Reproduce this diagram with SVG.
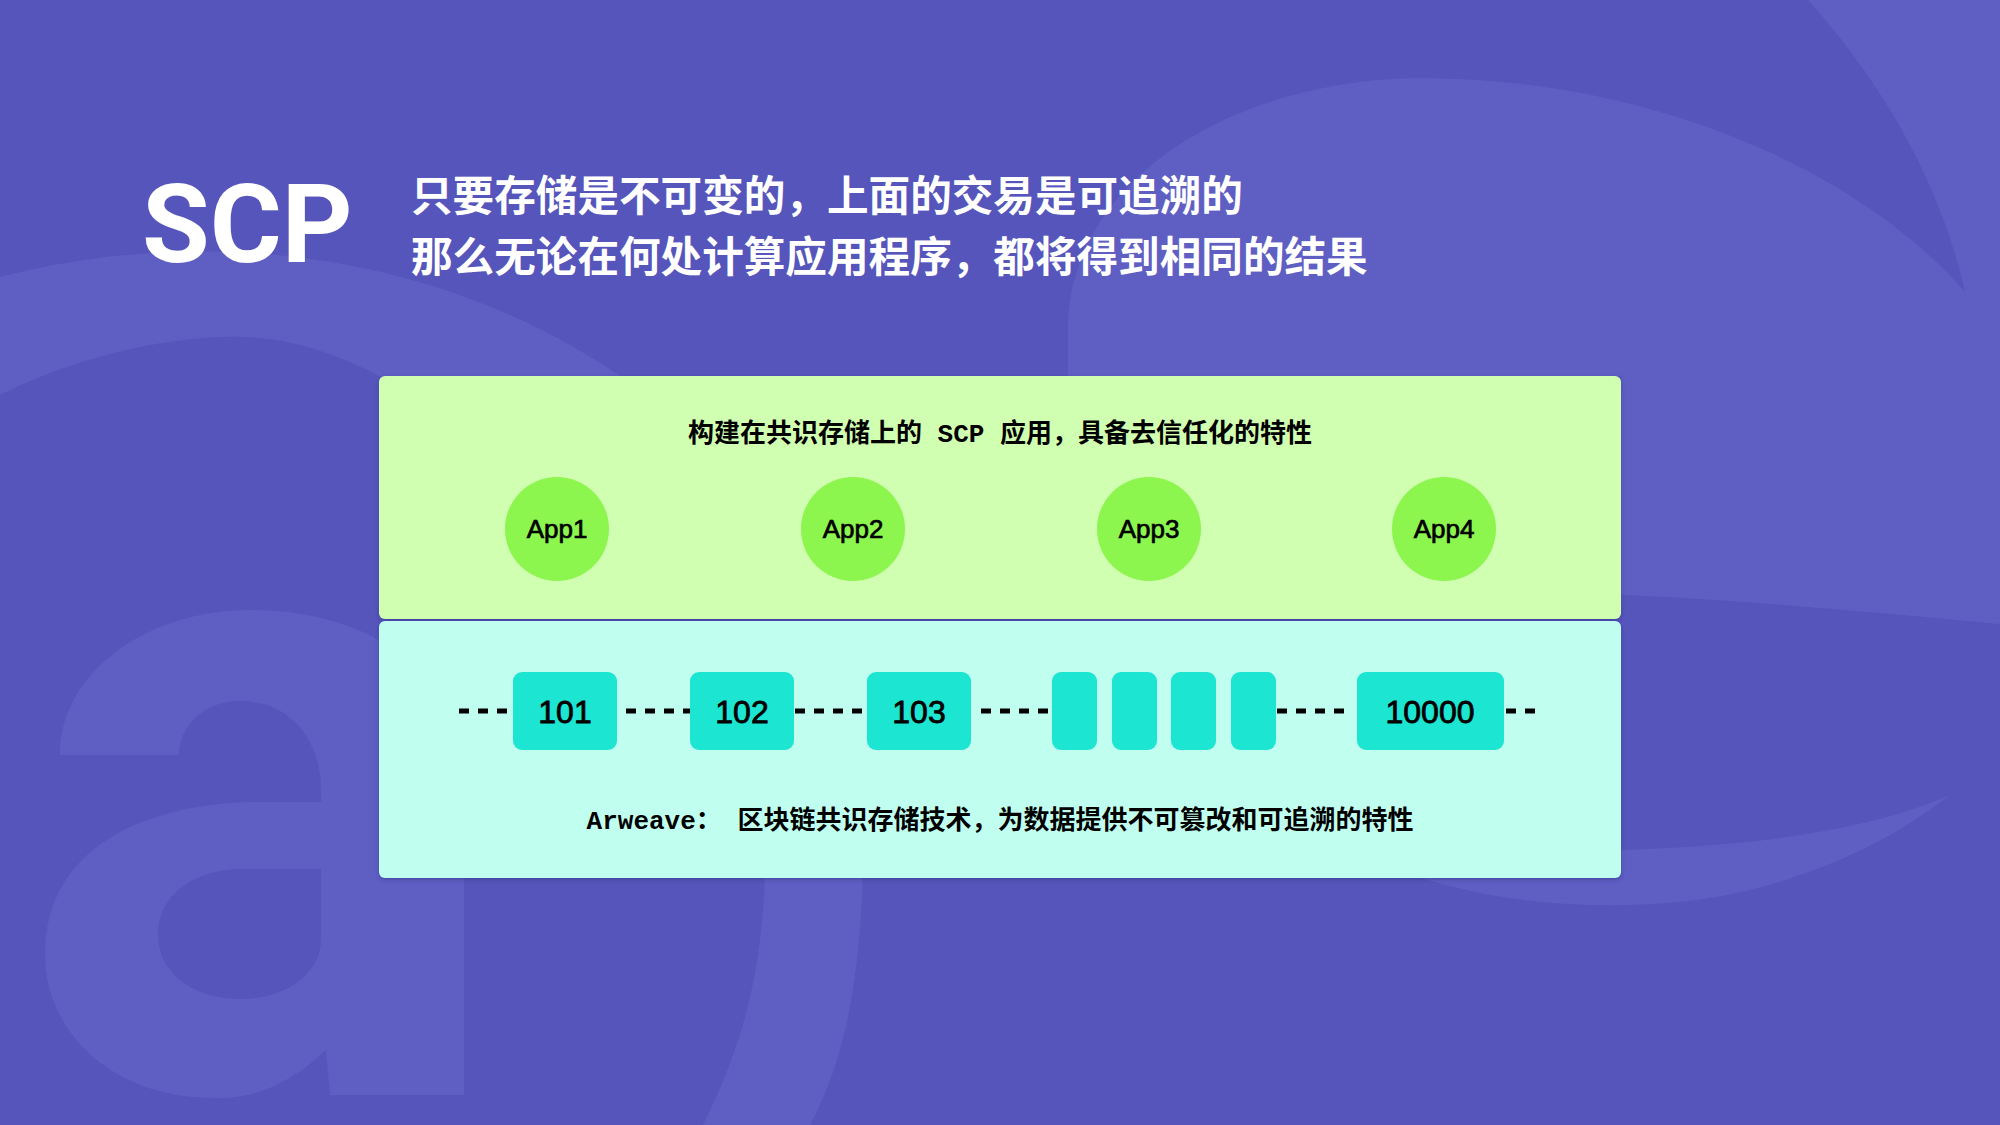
<svg xmlns="http://www.w3.org/2000/svg" width="2000" height="1125" viewBox="0 0 2000 1125">
  <defs>
    <style>
      .deco { fill: #5e5ec3; }
      .title { font-family: "Noto Sans CJK SC", "Liberation Sans", sans-serif; font-weight: 700; font-size: 41.6px; fill: #ffffff; }
      .mono { font-family: "Liberation Mono", "Noto Sans CJK SC", monospace; font-weight: 700; font-size: 26px; fill: #000000; }
      .app { fill: #8cf64f; }
      .applbl { font-family: "Liberation Sans", Arial, sans-serif; font-size: 26px; fill: #000000; stroke: #000000; stroke-width: 0.7; text-anchor: middle; }
      .block { fill: #1ce5d1; }
      .blklbl { font-family: "Liberation Sans", Arial, sans-serif; font-size: 32px; fill: #000000; stroke: #000000; stroke-width: 0.8; text-anchor: middle; }
      .dash { stroke: #000000; stroke-width: 5; stroke-dasharray: 10 9; fill: none; }
    </style>
    <filter id="sh" x="-5%" y="-5%" width="110%" height="115%">
      <feDropShadow dx="0" dy="2" stdDeviation="2" flood-color="#2a2a70" flood-opacity="0.35"/>
    </filter>
  </defs>

  <!-- background -->
  <rect x="0" y="0" width="2000" height="1125" fill="#5555bb"/>
  <g id="background-deco">
    <path class="deco" d="M 1808,0 L 2000,0 L 2000,624 C 1900,615 1750,600 1621,595 L 1621,376 L 1068,376 L 1068,320 C 1075,180 1230,80 1420,78 C 1650,78 1860,170 1965,292 C 1940,180 1880,80 1808,0 Z"/>
    <path class="deco" d="M 1400,870 C 1500,910 1650,915 1750,890 C 1830,870 1900,835 1948,796 C 1880,825 1780,845 1621,850 L 1400,850 Z"/>
    <path class="deco" d="M 0,277 C 180,230 420,240 620,376 L 379,376 C 320,345 270,335 223,337 C 140,340 60,365 0,395 Z"/>
    <path class="deco" d="M 765,870 L 863,870 C 860,980 845,1060 810,1125 L 703,1125 C 740,1050 762,980 765,870 Z"/>
    <path class="deco" fill-rule="evenodd" d="M 60,755 C 60,670 150,610 250,610 C 380,610 464,680 464,790 L 464,1095 L 330,1095 L 326,1050 C 290,1085 250,1100 214,1098 C 110,1098 45,1030 45,955 C 45,850 140,805 250,802 L 321,802 L 321,790 C 321,740 290,701 241,701 C 200,701 179,730 179,755 Z M 241,869 C 195,869 158,895 158,934 C 158,975 195,999 241,999 C 290,999 321,970 321,940 L 321,869 Z"/>
  </g>

  <!-- heading -->
  <g id="heading">
    <text x="142" y="262" font-family="Roboto, 'Liberation Sans', sans-serif" font-weight="700" font-size="110" fill="#ffffff">SCP</text>
    <text class="title" x="411" y="211">只要存储是不可变的，上面的交易是可追溯的</text>
    <text class="title" x="411" y="272">那么无论在何处计算应用程序，都将得到相同的结果</text>
  </g>

  <!-- panels -->
  <g id="app-layer">
    <rect x="379" y="376" width="1242" height="243" rx="6" fill="#d1ffb2" filter="url(#sh)"/>
    <text class="mono" x="1000" y="442" text-anchor="middle">构建在共识存储上的 SCP 应用，具备去信任化的特性</text>
  </g>
  <g id="storage-layer">
    <rect x="379" y="621" width="1242" height="257" rx="6" fill="#c0fff0" filter="url(#sh)"/>
    <text class="mono" x="1000" y="829" text-anchor="middle">Arweave： 区块链共识存储技术，为数据提供不可篡改和可追溯的特性</text>
  </g>

  <!-- apps -->
  <g id="app1"><circle class="app" cx="557" cy="529" r="52"/><text class="applbl" x="557" y="538">App1</text></g>
  <g id="app2"><circle class="app" cx="853" cy="529" r="52"/><text class="applbl" x="853" y="538">App2</text></g>
  <g id="app3"><circle class="app" cx="1149" cy="529" r="52"/><text class="applbl" x="1149" y="538">App3</text></g>
  <g id="app4"><circle class="app" cx="1444" cy="529" r="52"/><text class="applbl" x="1444" y="538">App4</text></g>

  <!-- connectors -->
  <g id="connectors">
    <line class="dash" x1="459" y1="711" x2="513" y2="711"/>
    <line class="dash" x1="626" y1="711" x2="690" y2="711"/>
    <line class="dash" x1="795" y1="711" x2="867" y2="711"/>
    <line class="dash" x1="981" y1="711" x2="1052" y2="711"/>
    <line class="dash" x1="1277" y1="711" x2="1352" y2="711"/>
    <line class="dash" x1="1506" y1="711" x2="1537" y2="711"/>
  </g>

  <!-- blocks -->
  <g id="block-101"><rect class="block" x="513" y="672" width="104" height="78" rx="9"/><text class="blklbl" x="565" y="723">101</text></g>
  <g id="block-102"><rect class="block" x="690" y="672" width="104" height="78" rx="9"/><text class="blklbl" x="742" y="723">102</text></g>
  <g id="block-103"><rect class="block" x="867" y="672" width="104" height="78" rx="9"/><text class="blklbl" x="919" y="723">103</text></g>
  <g id="block-a"><rect class="block" x="1052" y="672" width="45" height="78" rx="9"/></g>
  <g id="block-b"><rect class="block" x="1112" y="672" width="45" height="78" rx="9"/></g>
  <g id="block-c"><rect class="block" x="1171" y="672" width="45" height="78" rx="9"/></g>
  <g id="block-d"><rect class="block" x="1231" y="672" width="45" height="78" rx="9"/></g>
  <g id="block-10000"><rect class="block" x="1357" y="672" width="147" height="78" rx="9"/><text class="blklbl" x="1430" y="723">10000</text></g>
</svg>
